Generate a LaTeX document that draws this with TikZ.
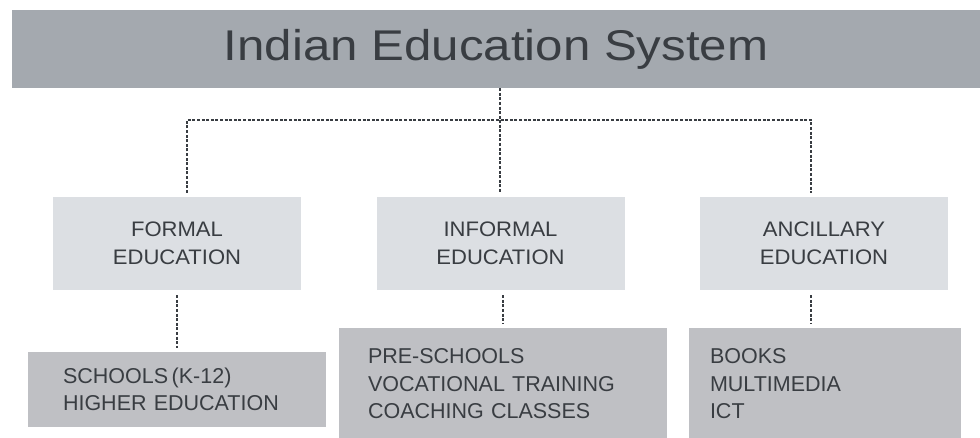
\documentclass[tikz,border=0pt]{standalone}
\usepackage{fontspec}
\setmainfont{Liberation Sans}
\newfontfamily\headfont[FakeStretch=1.145]{Liberation Sans}
\newfontfamily\branchfont[FakeStretch=1.05]{Liberation Sans}
\usetikzlibrary{positioning}
\definecolor{ink}{HTML}{393D42}
\definecolor{headfill}{HTML}{A4A9AF}
\definecolor{branchfill}{HTML}{DCDFE3}
\definecolor{leaffill}{HTML}{BFC0C4}
\tikzset{
  every node/.style={text=ink},
  headbox/.style={fill=headfill, inner sep=0pt,
    font=\headfont\fontsize{43}{46}\selectfont},
  branchbox/.style={fill=branchfill, inner sep=0pt, align=center,
    minimum width=248pt, minimum height=93pt,
    font=\branchfont\fontsize{21}{28}\selectfont},
  leafbox/.style={fill=leaffill, inner ysep=0pt, align=left,
    font=\fontsize{21.5}{27.5}\selectfont},
  link/.style={draw=ink, line width=1.4pt, dash pattern=on 3pt off 1.6pt},
  drop/.style={link, shorten <=5pt, shorten >=4pt}
}

\begin{document}
\begin{tikzpicture}[x=1pt,y=-1pt]
\useasboundingbox (0,0) rectangle (980,438);

% top of the tree
\node[headbox, minimum width=968pt, minimum height=78pt] (system) at (496,49)
  {Indian Education System};

% the three branches
\node[branchbox] (formal) at (177,243.5) {FORMAL\\EDUCATION};
\node[branchbox] (informal) at (500.5,243.5) {INFORMAL\\EDUCATION};
\node[branchbox] (ancillary) at (824,243.5) {ANCILLARY\\EDUCATION};

% what each branch covers
\node[leafbox, minimum width=298pt, minimum height=75pt, inner xsep=35pt,
  text width=228pt] (formalsub) at (177,389.5)
  {SCHOOLS\,(K-12)\\HIGHER EDUCATION};
\node[leafbox, minimum width=328pt, minimum height=112pt, inner xsep=29pt,
  text width=270pt] (informalsub) at (503,384)
  {PRE-SCHOOLS\\VOCATIONAL TRAINING\\COACHING CLASSES};
\node[leafbox, minimum width=272pt, minimum height=112pt, inner xsep=21pt,
  text width=230pt] (ancillarysub) at (825,384)
  {BOOKS\\MULTIMEDIA\\ICT};

% dotted connectors
\coordinate (hub) at (500,120);
\coordinate (formaltop) at ([xshift=10pt]formal.north);
\coordinate (ancillarytop) at ([xshift=-13pt]ancillary.north);
\coordinate (ancillarybot) at ([xshift=-13pt]ancillary.south);
\draw[link] (system.south -| hub) -- (hub);
\draw[link, shorten <=4pt, shorten >=4pt] (formaltop) |- (hub) -| (ancillarytop);
\draw[link, shorten >=4pt] (hub) -- (informal.north -| hub);

\draw[drop] (formal.south) -- (formalsub.north -| formal.south);
\draw[drop] (informal.south -| informalsub.north) -- (informalsub.north);
\draw[drop] (ancillarybot) -- (ancillarysub.north -| ancillarybot);
\end{tikzpicture}
\end{document}
